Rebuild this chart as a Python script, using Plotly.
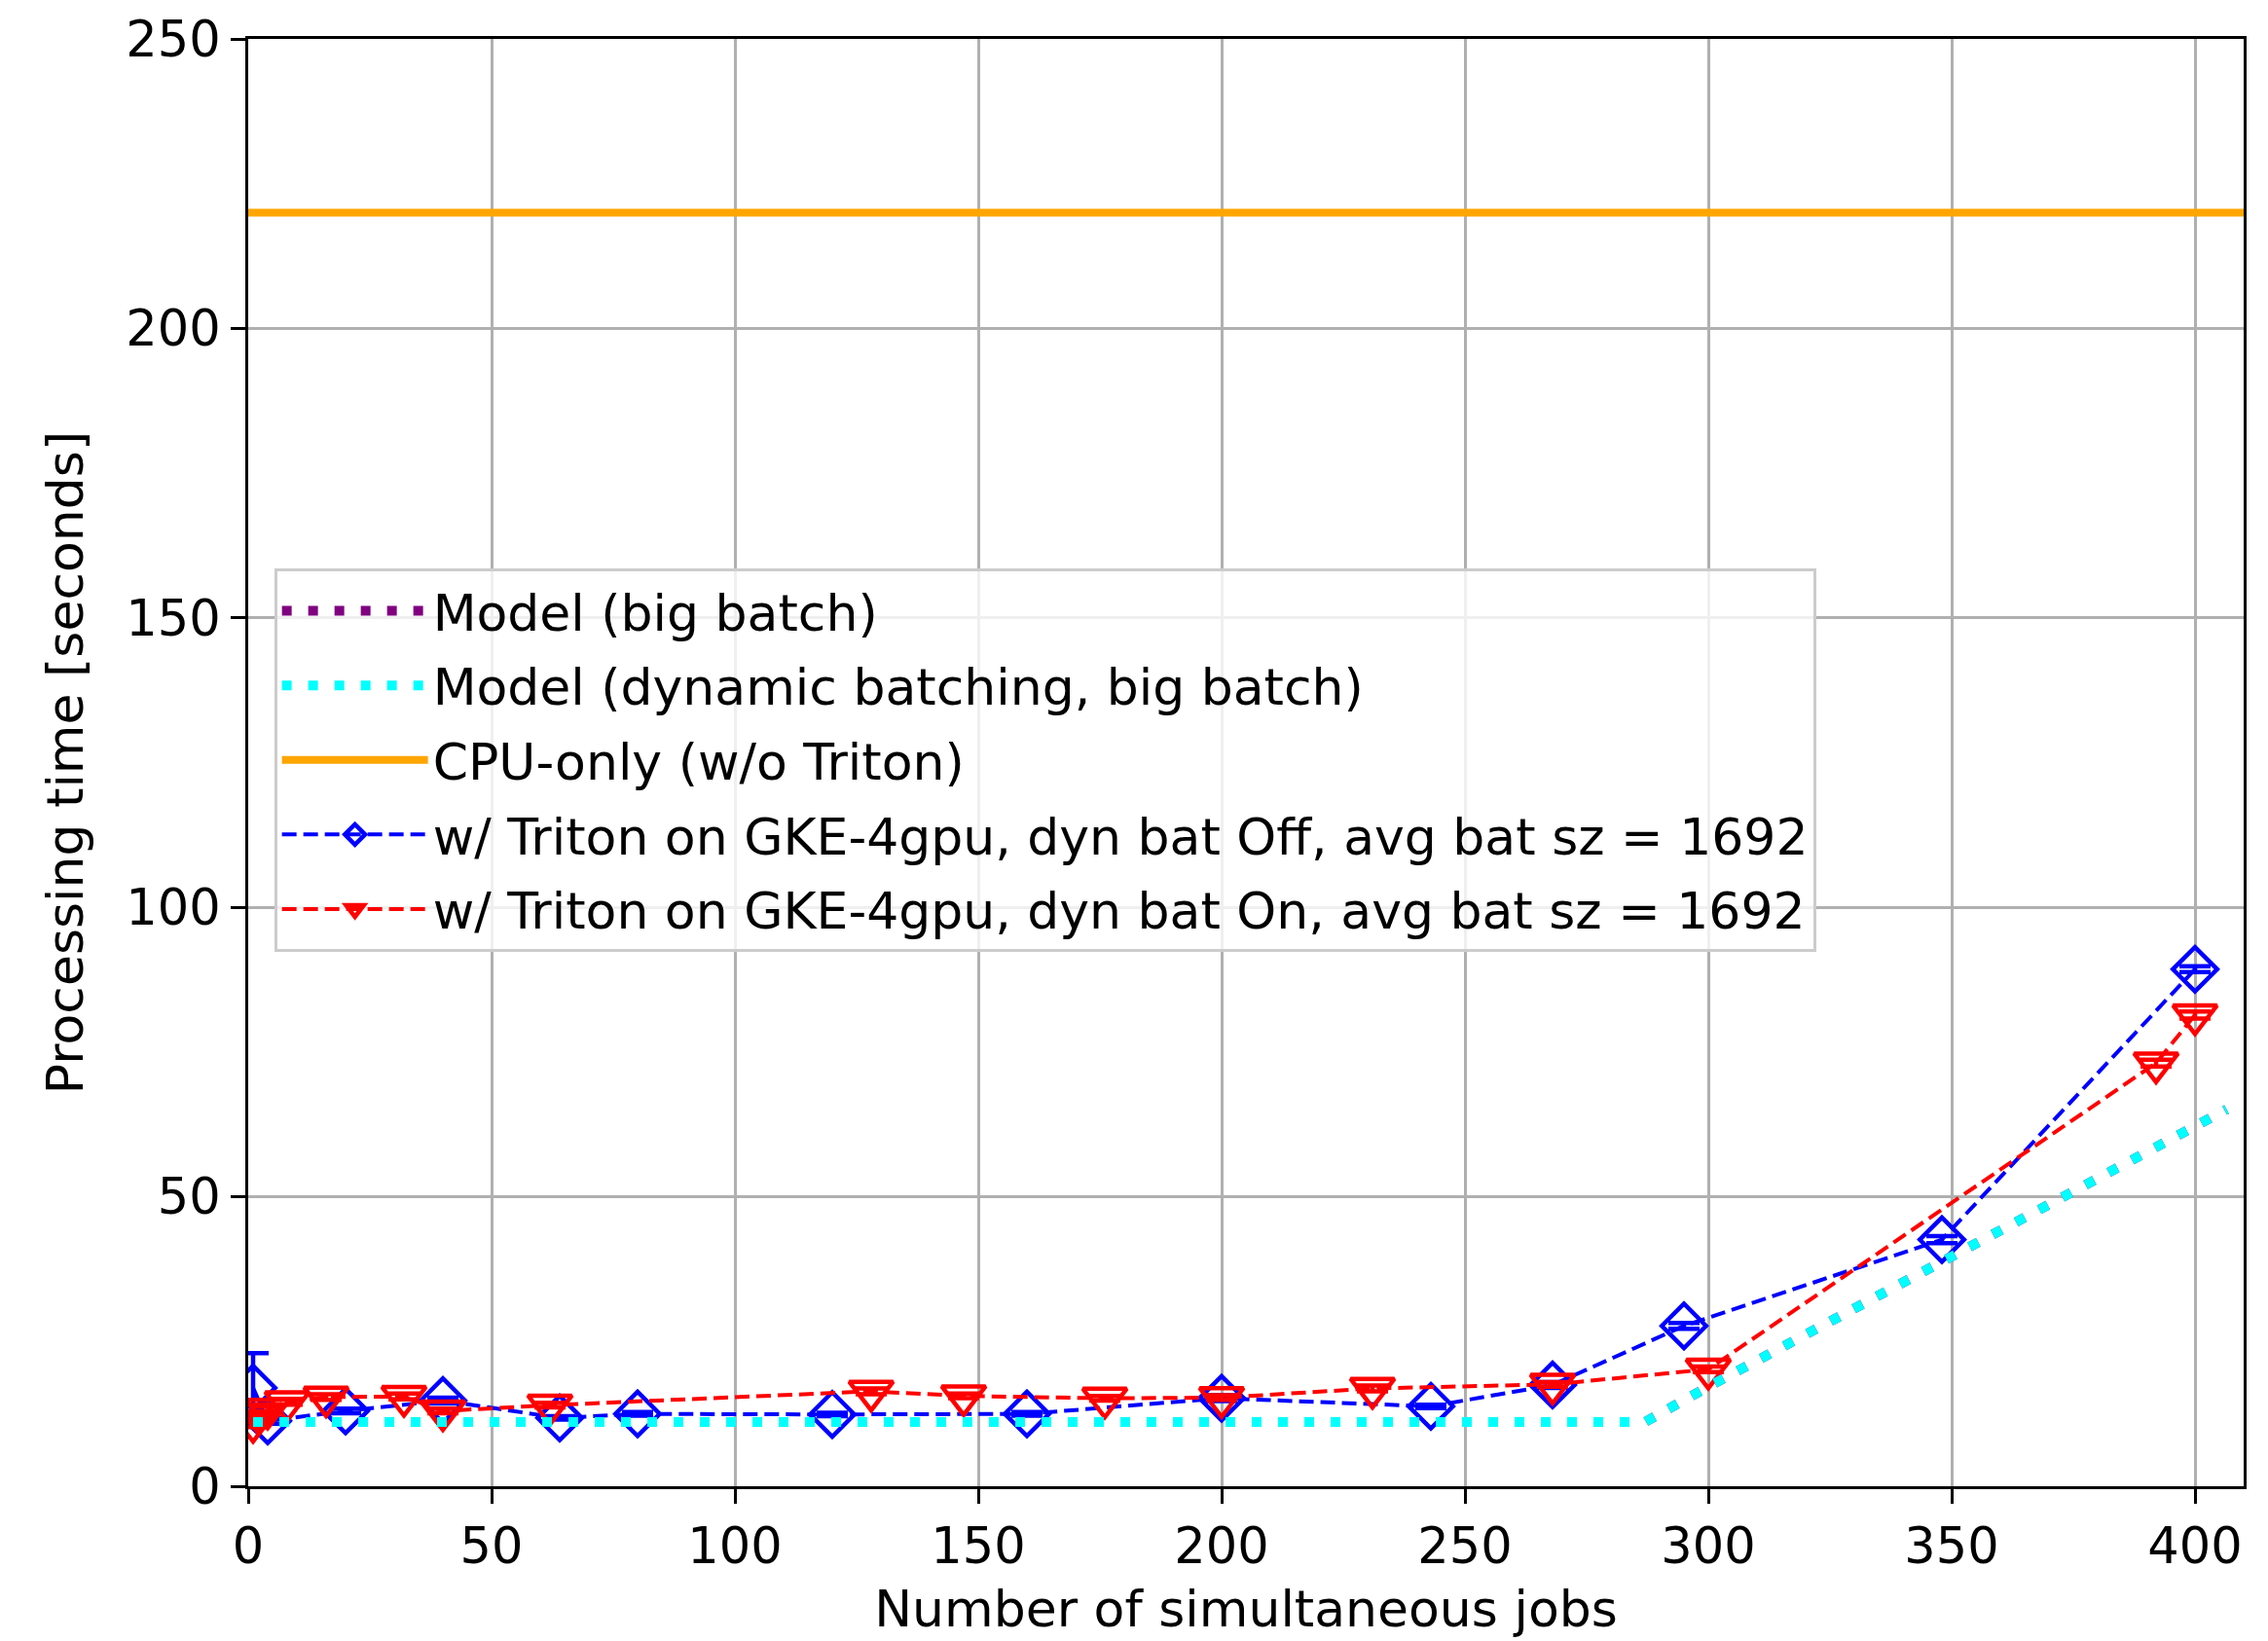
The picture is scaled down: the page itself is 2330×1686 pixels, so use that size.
import plotly.graph_objects as go

# Measured processing time vs. number of simultaneous jobs
off_jobs = [1, 4, 20, 40, 64, 80, 120, 160, 200, 243, 268, 295, 348, 400]
off_time = [17.0, 11.3, 13.0, 14.8, 11.8, 12.5, 12.4, 12.5, 15.2, 13.8, 17.5, 27.7, 42.6, 89.3]
off_err = [6.0, 0.5, 0.4, 0.5, 0.3, 0.3, 0.3, 0.3, 0.5, 0.3, 0.5, 0.5, 0.6, 0.5]

on_jobs = [1, 2, 4, 8, 16, 32, 40, 62, 128, 147, 176, 200, 231, 268, 300, 392, 400]
on_time = [11.0, 12.5, 13.3, 14.6, 15.4, 15.5, 13.0, 14.0, 16.4, 15.6, 15.2, 15.3, 16.9, 17.6, 20.2, 73.1, 81.4]
on_err = [0.8, 0.5, 0.5, 0.5, 0.5, 0.5, 0.4, 0.4, 0.5, 0.4, 0.4, 0.4, 0.5, 0.4, 0.5, 0.6, 0.6]

# Model curves
model_jobs = [1, 287, 300, 325, 350, 375, 400, 406.5]
model_big_time = [11.1, 11.1, 17.2, 28.4, 39.7, 51.0, 62.2, 65.1]
model_dyn_time = [11.1, 11.1, 17.2, 28.4, 39.7, 51.0, 62.2, 65.1]

# CPU-only reference level
cpu_jobs = [0, 410]
cpu_time = [220, 220]

FONT = "DejaVu Sans"
dash_pat = "15px,7px"

fig = go.Figure()

fig.add_trace(go.Scatter(
    x=off_jobs, y=off_time, mode="lines+markers",
    name="w/ Triton on GKE-4gpu, dyn bat Off, avg bat sz = 1692",
    line=dict(color="#0000ff", width=4, dash=dash_pat),
    marker=dict(symbol="diamond-open", size=35, color="#0000ff",
                line=dict(color="#0000ff", width=4.5)),
    error_y=dict(type="data", array=off_err, visible=True,
                 color="#0000ff", thickness=4.5, width=16),
    legendrank=4, legendgroup="g4",
))

fig.add_trace(go.Scatter(
    x=on_jobs, y=on_time, mode="lines+markers",
    name="w/ Triton on GKE-4gpu, dyn bat On, avg bat sz = 1692",
    line=dict(color="#ff0000", width=4, dash=dash_pat),
    marker=dict(symbol="triangle-down-open", size=39, color="#ff0000",
                line=dict(color="#ff0000", width=4.5)),
    error_y=dict(type="data", array=on_err, visible=True,
                 color="#ff0000", thickness=4.5, width=16),
    legendrank=5, legendgroup="g5",
))

fig.add_trace(go.Scatter(
    x=model_jobs, y=model_big_time, mode="lines",
    name="Model (big batch)",
    line=dict(color="#800080", width=10, dash="10px,17px"),
    legendrank=1, legendgroup="g1",
))

fig.add_trace(go.Scatter(
    x=model_jobs, y=model_dyn_time, mode="lines",
    name="Model (dynamic batching, big batch)",
    line=dict(color="#00ffff", width=10, dash="10px,17px"),
    legendrank=2, legendgroup="g2",
))

fig.add_trace(go.Scatter(
    x=cpu_jobs, y=cpu_time, mode="lines",
    name="CPU-only (w/o Triton)",
    line=dict(color="#ffa500", width=8),
    legendrank=3, legendgroup="g3",
))

axis_common = dict(
    showgrid=True, gridcolor="#b0b0b0", gridwidth=3.3,
    showline=True, linecolor="black", linewidth=3.3, mirror=True,
    ticks="outside", ticklen=15, tickwidth=3.3, tickcolor="black",
    tickfont=dict(family=FONT, size=51, color="black"),
    zeroline=False,
)

fig.update_xaxes(
    range=[0, 410], tickvals=[0, 50, 100, 150, 200, 250, 300, 350, 400],
    title=dict(text="Number of simultaneous jobs",
               font=dict(family=FONT, size=52, color="black"), standoff=18),
    **axis_common,
)
fig.update_yaxes(
    range=[0, 250], tickvals=[0, 50, 100, 150, 200, 250],
    title=dict(text="Processing time [seconds]",
               font=dict(family=FONT, size=52, color="black"), standoff=28),
    **axis_common,
)

fig.update_layout(
    width=2330, height=1686,
    margin=dict(l=255, r=25, t=40, b=159),
    paper_bgcolor="white", plot_bgcolor="white",
    font=dict(family=FONT, size=52, color="black"),
    showlegend=True,
    legend=dict(
        x=0.013, y=0.634, xanchor="left", yanchor="top",
        bgcolor="rgba(255,255,255,0.8)", bordercolor="#cccccc", borderwidth=3,
        font=dict(family=FONT, size=52, color="black"),
        itemwidth=150, traceorder="grouped", tracegroupgap=6,
    ),
)

fig.write_html("out.html")
